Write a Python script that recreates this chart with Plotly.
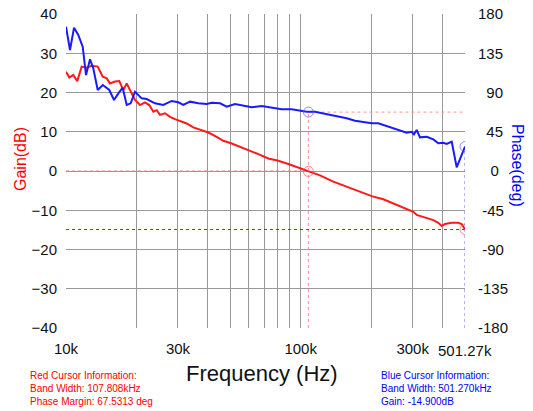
import math
import plotly.graph_objects as go

# ---- data (kHz, dB, deg) ----
gain_freq_khz = [10.00, 10.33, 10.74, 11.17, 11.66, 12.25, 12.87, 13.65, 14.34, 14.91, 15.40, 16.17, 16.87,
                 17.54, 18.14, 18.87, 19.68, 20.67, 21.71, 22.64, 23.55, 24.35, 25.15, 26.42, 27.74, 29.13,
                 30.60, 32.68, 34.86, 37.86, 40.41, 43.86, 46.80, 50.82, 55.12, 59.81, 65.97, 72.78, 80.29,
                 88.55, 97.68, 106.1, 115.1, 120.8, 137.7, 157.0, 178.9, 200.7, 224.9, 256.4, 282.9, 301.9,
                 312.1, 338.5, 367.3, 385.8, 398.9, 411.9, 440.0, 469.4, 485.3, 501.27]
gain_db = [25.3, 23.8, 24.5, 22.9, 26.6, 26.3, 26.8, 26.6, 24.0, 23.6, 22.3, 22.8, 22.9,
           20.6, 22.3, 20.2, 18.1, 16.8, 17.5, 16.8, 15.1, 15.5, 14.3, 14.7, 13.8, 13.2,
           12.8, 12.1, 11.1, 10.3, 9.8, 8.7, 7.7, 7.0, 6.2, 5.4, 4.3, 3.2, 2.6,
           1.8, 0.9, 0.25, -0.6, -1.1, -2.7, -4.0, -5.3, -6.4, -7.2, -8.7, -9.8, -10.4,
           -11.2, -11.8, -12.5, -13.2, -14.0, -13.5, -13.2, -13.2, -13.5, -14.9]

phase_freq_khz = [10.00, 10.40, 10.82, 11.28, 11.78, 12.17, 12.66, 13.07, 13.65, 14.34, 15.29, 16.02, 16.71,
                  17.44, 18.14, 18.87, 19.68, 21.02, 22.07, 23.94, 25.97, 28.21, 30.09, 31.61, 33.76, 36.63,
                  39.77, 41.77, 45.32, 48.38, 52.49, 56.94, 61.84, 68.22, 75.20, 82.99, 91.55, 99.31, 106.1,
                  115.1, 120.8, 129.1, 142.4, 149.5, 157.0, 170.4, 184.8, 200.7, 214.1, 232.5, 252.2, 269.4,
                  282.9, 297.1, 303.9, 312.1, 322.4, 344.3, 367.3, 385.8, 405.2, 419.0, 440.0, 462.1, 477.3,
                  497.8, 501.27]
phase_deg = [165.4, 138.7, 164.3, 155.9, 142.5, 110.0, 128.0, 117.7, 92.9, 98.6, 92.9, 81.4, 89.0,
             95.5, 75.7, 77.6, 90.9, 83.3, 82.5, 77.6, 75.7, 80.3, 78.8, 75.7, 79.5, 77.6,
             76.8, 78.3, 77.6, 73.7, 76.8, 74.5, 73.0, 74.5, 73.0, 70.7, 70.7, 69.1, 68.0,
             68.0, 66.8, 65.3, 63.1, 61.6, 60.4, 57.7, 55.8, 54.7, 54.7, 51.6, 48.2, 46.2,
             43.9, 45.0, 42.0, 47.0, 38.6, 39.3, 36.3, 31.8, 32.4, 31.0, 33.6, 4.2, 14.6,
             26.0, 28.0]

# cursors
red_cursor_khz = 107.808
red_cursor_gain_db = -0.1
red_cursor_phase_deg = 67.5313
blue_cursor_khz = 501.27
blue_cursor_gain_db = -14.900
blue_cursor_phase_deg = 28.0

x_label_vals_khz = [10, 30, 100, 300, 501.27]
x_label_text = ["10k", "30k", "100k", "300k", "501.27k"]
x_grid_khz = [10, 20, 30, 40, 50, 60, 70, 80, 90, 100, 200, 300, 400]
gain_ticks = [-40, -30, -20, -10, 0, 10, 20, 30, 40]
phase_ticks = [-180, -135, -90, -45, 0, 45, 90, 135, 180]
phase_tick_text = ["-180", "-135", "\u00a0-90", "\u00a0-45", "\u00a0\u00a0\u00a00", "\u00a0\u00a045",
                   "\u00a0\u00a090", "135", "180"]

red_info = ["Red Cursor Information:", "Band Width: 107.808kHz", "Phase Margin: 67.5313 deg"]
blue_info = ["Blue Cursor Information:", "Band Width: 501.270kHz", "Gain: -14.900dB"]

RED = "#ff1a1a"
BLUE = "#1a1aff"
FONT = "Liberation Sans, Arial, sans-serif"


def hz(lst):
    return [v * 1000 for v in lst]


fig = go.Figure()

# cursor dotted lines
fig.add_trace(go.Scatter(x=hz([gain_freq_khz[0], red_cursor_khz]), y=[0, 0], mode="lines",
                         line=dict(color="#ff7070", width=1, dash="dot"), hoverinfo="skip"))
fig.add_trace(go.Scatter(x=hz([red_cursor_khz, red_cursor_khz]), y=[gain_ticks[0], 0], mode="lines",
                         line=dict(color="#ff9090", width=1, dash="dot"), hoverinfo="skip"))
fig.add_trace(go.Scatter(x=hz([red_cursor_khz, red_cursor_khz, blue_cursor_khz]),
                         y=[0, red_cursor_phase_deg, red_cursor_phase_deg], mode="lines", yaxis="y2",
                         line=dict(color="#ff9090", width=1, dash="dot"), hoverinfo="skip"))
fig.add_trace(go.Scatter(x=hz([gain_freq_khz[0], blue_cursor_khz]), y=[blue_cursor_gain_db, blue_cursor_gain_db],
                         mode="lines", line=dict(color="#3a3aff", width=1, dash="dot"), hoverinfo="skip"))
fig.add_trace(go.Scatter(x=hz([blue_cursor_khz, blue_cursor_khz]), y=[phase_ticks[0], blue_cursor_phase_deg],
                         mode="lines", yaxis="y2",
                         line=dict(color="#6a6aff", width=1, dash="dot"), hoverinfo="skip"))

# curves
fig.add_trace(go.Scatter(x=hz(gain_freq_khz), y=gain_db, mode="lines", name="Gain",
                         line=dict(color=RED, width=2)))
fig.add_trace(go.Scatter(x=hz(phase_freq_khz), y=phase_deg, mode="lines", name="Phase", yaxis="y2",
                         line=dict(color=BLUE, width=2)))

# cursor circles
fig.add_trace(go.Scatter(x=hz([red_cursor_khz, blue_cursor_khz]), y=[red_cursor_gain_db, blue_cursor_gain_db],
                         mode="markers", marker=dict(symbol="circle-open", size=10,
                                                     color="rgba(255,90,90,0.7)", line=dict(width=1))))
fig.add_trace(go.Scatter(x=hz([red_cursor_khz, blue_cursor_khz]), y=[red_cursor_phase_deg, blue_cursor_phase_deg],
                         mode="markers", yaxis="y2",
                         marker=dict(symbol="circle-open", size=10, color="rgba(90,90,255,0.7)",
                                     line=dict(width=1))))

x_range = [math.log10(gain_freq_khz[0] * 1000), math.log10(blue_cursor_khz * 1000)]

grid_col = "#999999"
fig.update_layout(
    width=533, height=411,
    margin=dict(l=66, r=68, t=14, b=83),
    paper_bgcolor="white", plot_bgcolor="white",
    showlegend=False,
    font=dict(family=FONT, color="#111111"),
    xaxis=dict(type="log", range=x_range, tickmode="array", tickvals=hz(x_grid_khz),
               ticktext=[x_label_text[x_label_vals_khz.index(v)] if v in x_label_vals_khz else "" for v in x_grid_khz],
               showgrid=True, gridcolor=grid_col, gridwidth=1, zeroline=False, automargin=False,
               showline=False, ticks="", tickfont=dict(size=15, color="#111111"),
               ticklabelstandoff=10),
    yaxis=dict(range=[gain_ticks[0], gain_ticks[-1]], tickmode="array", tickvals=gain_ticks,
               showgrid=True, gridcolor=grid_col, gridwidth=1, zeroline=False, automargin=False,
               showline=False, ticks="", tickfont=dict(size=15, color="#111111"),
               ticklabelstandoff=8),
    yaxis2=dict(range=[phase_ticks[0], phase_ticks[-1]], tickmode="array", tickvals=phase_ticks,
                ticktext=phase_tick_text, automargin=False,
                overlaying="y", side="right", showgrid=False, zeroline=False, showline=False,
                ticks="", tickfont=dict(size=15, color="#111111"), ticklabelstandoff=12),
)

annotations = [
    dict(text=x_label_text[-1], x=math.log10(blue_cursor_khz * 1000), xref="x", y=0, yref="paper",
         yanchor="top", xanchor="center", yshift=-12, showarrow=False,
         font=dict(size=15, color="#111111")),
    dict(text="Frequency (Hz)", x=0.49, xref="paper", y=(328 - 373) / 314, yref="paper", yanchor="middle",
         xanchor="center", showarrow=False, font=dict(size=22, color="#111111")),
    dict(text="Gain(dB)", x=0, xref="paper", xshift=-46, y=(328 - 159) / 314, yref="paper",
         xanchor="center", yanchor="middle", showarrow=False, textangle=-90,
         font=dict(size=16, color="#ff0000")),
    dict(text="Phase(deg)", x=1, xref="paper", xshift=53, y=(328 - 165) / 314, yref="paper",
         xanchor="center", yanchor="middle", showarrow=False, textangle=90,
         font=dict(size=16, color="#0000ff")),
]

for i, line in enumerate(red_info):
    annotations.append(dict(text=line, x=0, xref="paper", xshift=-38, y=(328 - 375 - 13 * i) / 314,
                            yref="paper", xanchor="left", yanchor="middle", showarrow=False,
                            font=dict(size=10, color="#ff0000")))
for i, line in enumerate(blue_info):
    annotations.append(dict(text=line, x=1, xref="paper", xshift=-86, y=(328 - 375 - 13 * i) / 314,
                            yref="paper", xanchor="left", yanchor="middle", showarrow=False,
                            font=dict(size=10, color="#0000ff")))
fig.update_layout(annotations=annotations)

fig.write_html("out.html", config={"displayModeBar": False},
               post_script="document.body.style.margin='0';")
